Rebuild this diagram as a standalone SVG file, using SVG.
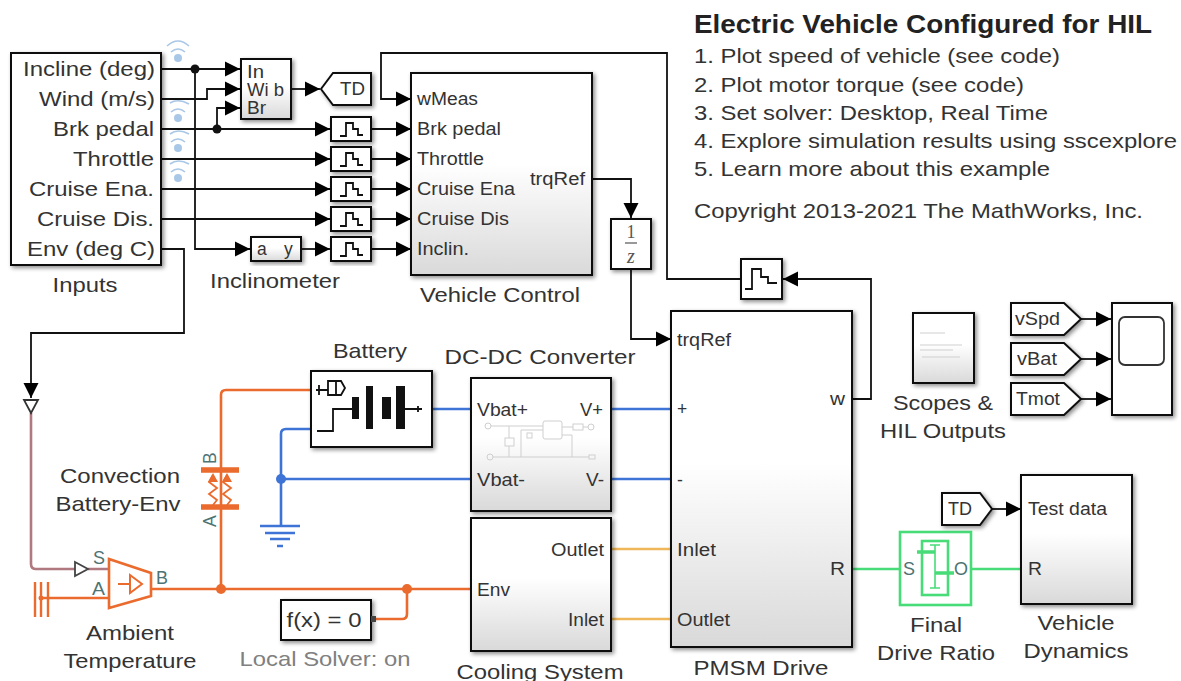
<svg xmlns="http://www.w3.org/2000/svg" width="1181" height="681" viewBox="0 0 1181 681">
<style>
text{font-family:"Liberation Sans",Arial,sans-serif;font-size:21px;fill:#333}
.s{font-size:17.5px}
.m{text-anchor:middle}
.e{text-anchor:end}
.p{fill:#4d7373}
.b{fill:#fff;stroke:#111;stroke-width:2;filter:url(#sh)}
.g{fill:url(#gr);stroke:#111;stroke-width:2;filter:url(#sh)}
.w{fill:none;stroke:#111;stroke-width:1.8}
.sig{fill:none;stroke:#111;stroke-width:1.8}
.sigA{fill:none;stroke:#111;stroke-width:1.8;marker-end:url(#ar)}
.or{fill:none;stroke:#ea6b2d;stroke-width:2.6}
.bl{fill:none;stroke:#3e74d6;stroke-width:2.6}
.ye{fill:none;stroke:#efb75a;stroke-width:2.6}
.gn{fill:none;stroke:#47dc78;stroke-width:2.6}
.pk{fill:none;stroke:#b0797f;stroke-width:2.6}
.fi{fill:none;stroke:#cfcfcf;stroke-width:1}
.wf{fill:none;stroke:#a9c7e6;stroke-width:1.6}
</style>
<defs>
<linearGradient id="gr" x1="0" y1="0" x2="0" y2="1"><stop offset="0.45" stop-color="#fff"/><stop offset="1" stop-color="#d9d9d9"/></linearGradient>
<filter id="sh" x="-20%" y="-20%" width="140%" height="140%"><feDropShadow dx="2" dy="2" stdDeviation="2" flood-color="#000" flood-opacity="0.45"/></filter>
<marker id="ar" markerUnits="userSpaceOnUse" markerWidth="15" markerHeight="16" refX="15" refY="8" orient="auto"><path d="M0 0.5L15 8L0 15.5z" fill="#000"/></marker>
<symbol id="zoh" overflow="visible"><path class="w" d="M9 19H15V6H22V12H27V18H32"/></symbol>
</defs>

<g id="connectors">
<path class="sigA" d="M161 69H240"/>
<path class="sigA" d="M195 69V249H250"/>
<path class="sigA" d="M161 99H207V89H240"/>
<path class="sigA" d="M161 129H330"/>
<path class="sigA" d="M217 129V108H240"/>
<path class="sigA" d="M161 159H330"/>
<path class="sigA" d="M161 189H330"/>
<path class="sigA" d="M161 219H330"/>
<path class="sigA" d="M291 89H320"/>
<path class="sigA" d="M301 249H330"/>
<path class="sigA" d="M371 129H411"/>
<path class="sigA" d="M371 159H411"/>
<path class="sigA" d="M371 189H411"/>
<path class="sigA" d="M371 219H411"/>
<path class="sigA" d="M371 249H411"/>
<path class="sigA" d="M741 279H667V53H381V99H411"/>
<path class="sigA" d="M851 399H871V279H783"/>
<path class="sigA" d="M592 179H631V218"/>
<path class="sigA" d="M631 269V339H671"/>
<path class="sigA" d="M161 249H184V333H31V398"/>
<path class="sigA" d="M1081 319H1111"/>
<path class="sigA" d="M1081 359H1111"/>
<path class="sigA" d="M1081 399H1111"/>
<path class="sigA" d="M992 509H1021"/>
<path class="pk" d="M31 413V564Q31 569 36 569H75M88 569H110"/>
<path class="or" d="M41 598H109M151 589H471"/>
<path class="or" d="M221 589V395Q221 390 226 390H311"/>
<path class="or" d="M375 619H402Q407 619 407 614V589"/>
<path class="bl" d="M311 429H286Q281 429 281 434V526M281 479H471M431 409H471M611 409H671M611 479H671"/>
<path class="ye" d="M611 549H671M611 619H671"/>
<path class="gn" d="M851 569H900M971 569H1021"/>
<g fill="#111"><circle cx="195" cy="69" r="4.5"/><circle cx="217" cy="129" r="4.5"/></g>
<g fill="#ea6b2d"><circle cx="221" cy="589" r="5"/><circle cx="407" cy="589" r="5"/></g>
<circle cx="281" cy="479" r="5" fill="#3e74d6"/>
</g>

<g id="wireless">
<g id="wifi1"><circle cx="178" cy="58" r="4" fill="#a9c7e6"/><path class="wf" d="M171 52Q178 46 185 52M167 46Q178 36 189 46"/></g>
<g id="wifi2"><circle cx="178" cy="118" r="4" fill="#a9c7e6"/><path class="wf" d="M171 112Q178 106 185 112M170 103Q178 98 189 104"/></g>
<g id="wifi3"><circle cx="178" cy="148" r="4" fill="#a9c7e6"/><path class="wf" d="M171 142Q178 136 185 142M170 134Q178 128 189 134"/></g>
<g id="wifi4"><circle cx="178" cy="178" r="4" fill="#a9c7e6"/><path class="wf" d="M171 172Q178 166 185 172M170 164Q178 158 189 164"/></g>
</g>

<g id="inputs">
<rect class="b" x="11" y="53" width="150" height="212"/>
<text class="e" x="155" y="76" textLength="132" lengthAdjust="spacingAndGlyphs">Incline (deg)</text>
<text class="e" x="155" y="106" textLength="116" lengthAdjust="spacingAndGlyphs">Wind (m/s)</text>
<text class="e" x="154" y="136" textLength="101" lengthAdjust="spacingAndGlyphs">Brk pedal</text>
<text class="e" x="154" y="166" textLength="81" lengthAdjust="spacingAndGlyphs">Throttle</text>
<text class="e" x="154" y="196" textLength="125" lengthAdjust="spacingAndGlyphs">Cruise Ena.</text>
<text class="e" x="154" y="226" textLength="117" lengthAdjust="spacingAndGlyphs">Cruise Dis.</text>
<text class="e" x="155" y="256" textLength="128" lengthAdjust="spacingAndGlyphs">Env (deg C)</text>
<text class="m" x="85" y="292" textLength="65" lengthAdjust="spacingAndGlyphs">Inputs</text>
</g>

<g id="mux">
<rect class="g" x="241" y="59" width="50" height="60"/>
<text class="s" x="247" y="78" textLength="17" lengthAdjust="spacingAndGlyphs">In</text>
<text class="s" x="247" y="96" textLength="37" lengthAdjust="spacingAndGlyphs">Wi b</text>
<text class="s" x="247" y="114" textLength="19" lengthAdjust="spacingAndGlyphs">Br</text>
</g>
<g id="goto-td">
<path class="b" d="M321 89L333 73H371V105H333z"/>
<text class="s" x="340" y="95" textLength="25" lengthAdjust="spacingAndGlyphs">TD</text>
</g>
<g id="zoh1"><rect class="b" x="331" y="117" width="40" height="24"/><use href="#zoh" x="331" y="117"/></g>
<g id="zoh2"><rect class="b" x="331" y="147" width="40" height="24"/><use href="#zoh" x="331" y="147"/></g>
<g id="zoh3"><rect class="b" x="331" y="177" width="40" height="24"/><use href="#zoh" x="331" y="177"/></g>
<g id="zoh4"><rect class="b" x="331" y="207" width="40" height="24"/><use href="#zoh" x="331" y="207"/></g>
<g id="zoh5"><rect class="b" x="331" y="237" width="40" height="24"/><use href="#zoh" x="331" y="237"/></g>
<g id="inclinometer">
<rect class="g" x="251" y="237" width="50" height="24"/>
<text class="s" x="257" y="255">a</text>
<text class="s" x="284" y="255">y</text>
<text class="m" x="275" y="288" textLength="130" lengthAdjust="spacingAndGlyphs">Inclinometer</text>
</g>
<g id="vehicle-control">
<rect class="g" x="411" y="73" width="181" height="202"/>
<text class="s" x="417" y="105" textLength="61" lengthAdjust="spacingAndGlyphs">wMeas</text>
<text class="s" x="417" y="135" textLength="84" lengthAdjust="spacingAndGlyphs">Brk pedal</text>
<text class="s" x="417" y="165" textLength="67" lengthAdjust="spacingAndGlyphs">Throttle</text>
<text class="s" x="417" y="195" textLength="98" lengthAdjust="spacingAndGlyphs">Cruise Ena</text>
<text class="s" x="417" y="225" textLength="92" lengthAdjust="spacingAndGlyphs">Cruise Dis</text>
<text class="s" x="417" y="255" textLength="52" lengthAdjust="spacingAndGlyphs">Inclin.</text>
<text class="s e" x="585" y="185" textLength="55" lengthAdjust="spacingAndGlyphs">trqRef</text>
<text class="m" x="500" y="302" textLength="160" lengthAdjust="spacingAndGlyphs">Vehicle Control</text>
</g>
<g id="unit-delay">
<rect class="b" x="611" y="219" width="40" height="50"/>
<text x="631" y="238" class="m" style="font-family:'Liberation Serif',serif;font-size:18px;fill:#555">1</text>
<path d="M625 243H637" stroke="#555" stroke-width="1.2"/>
<text x="631" y="263" class="m" style="font-family:'Liberation Serif',serif;font-size:20px;font-style:italic;fill:#555">z</text>
</g>
<g id="zoh6"><rect class="b" x="741" y="259" width="41" height="40"/><path class="w" d="M745 289H752V269H761V277H768V283H777"/></g>
<g id="pmsm-drive">
<rect class="g" x="671" y="311" width="181" height="336"/>
<text class="s" x="677" y="346" textLength="54" lengthAdjust="spacingAndGlyphs">trqRef</text>
<text class="s" x="677" y="415">+</text>
<text class="s" x="677" y="486">-</text>
<text class="s" x="677" y="556" textLength="39" lengthAdjust="spacingAndGlyphs">Inlet</text>
<text class="s" x="677" y="626" textLength="53" lengthAdjust="spacingAndGlyphs">Outlet</text>
<text class="s e" x="845" y="405" textLength="15" lengthAdjust="spacingAndGlyphs">w</text>
<text class="s e" x="845" y="575" textLength="15" lengthAdjust="spacingAndGlyphs">R</text>
<text class="m" x="761" y="675" textLength="135" lengthAdjust="spacingAndGlyphs">PMSM Drive</text>
</g>
<g id="battery">
<rect class="b" x="311" y="371" width="121" height="76"/>
<path class="w" d="M316 390H328M319 385V395"/>
<path class="w" d="M328 381H341L345 388L341 395H328zM336 381V395"/>
<path class="w" d="M317 431H333V409H352M405 409H422"/>
<g fill="#111"><rect x="352" y="397" width="7" height="22"/><rect x="366" y="386" width="7" height="43"/><rect x="382" y="397" width="9" height="22"/><rect x="396" y="386" width="9" height="43"/></g>
<path class="w" d="M418 406V412"/>
<text class="m" x="370" y="358" textLength="74" lengthAdjust="spacingAndGlyphs">Battery</text>
</g>
<g id="dc-dc-converter">
<rect class="g" x="471" y="378" width="140" height="133"/>
<text class="s" x="477" y="416" textLength="51" lengthAdjust="spacingAndGlyphs">Vbat+</text>
<text class="s" x="477" y="486" textLength="48" lengthAdjust="spacingAndGlyphs">Vbat-</text>
<text class="s e" x="603" y="416" textLength="23" lengthAdjust="spacingAndGlyphs">V+</text>
<text class="s e" x="604" y="486" textLength="18" lengthAdjust="spacingAndGlyphs">V-</text>
<path class="fi" d="M491 426H543M509 426V438M509 446V457M562 427H573M583 427H588M493 457H589M521 457V430H543M562 435H572V457"/>
<rect class="fi" x="505" y="438" width="9" height="8"/>
<rect class="fi" x="543" y="421" width="19" height="18" rx="2"/>
<rect class="fi" x="527" y="433" width="5" height="5"/>
<rect class="fi" x="573" y="424" width="10" height="6"/>
<circle class="fi" cx="488" cy="426" r="3"/><circle class="fi" cx="591" cy="427" r="3"/><circle class="fi" cx="490" cy="457" r="3"/><rect class="fi" x="589" y="455" width="6" height="4"/>
<text class="m" x="540" y="364" textLength="191" lengthAdjust="spacingAndGlyphs">DC-DC Converter</text>
</g>
<g id="cooling-system">
<rect class="g" x="471" y="518" width="140" height="133"/>
<text class="s" x="477" y="596" textLength="33" lengthAdjust="spacingAndGlyphs">Env</text>
<text class="s e" x="604" y="556" textLength="53" lengthAdjust="spacingAndGlyphs">Outlet</text>
<text class="s e" x="604" y="626" textLength="36" lengthAdjust="spacingAndGlyphs">Inlet</text>
<text class="m" x="540" y="679" textLength="167" lengthAdjust="spacingAndGlyphs">Cooling System</text>
</g>
<g id="ground">
<path d="M260 526H300M265 533H295M270 539H290M277 546H283" stroke="#3e74d6" stroke-width="2.6" fill="none"/>
</g>
<g id="convection">
<path d="M201 470H239M201 507H239" stroke="#ea6b2d" stroke-width="5.5" fill="none"/>
<path class="or" style="stroke-width:1.8" d="M213 475L209 482L217 488L209 494L217 500L213 505M227 475L223 482L231 488L223 494L231 500L227 505"/>
<path d="M208 482L213 473L218 482zM222 482L227 473L232 482z" fill="#ea6b2d"/>
<text class="p s" transform="translate(216 464) rotate(-90)">B</text>
<text class="p s" transform="translate(216 527) rotate(-90)">A</text>
<text class="m" x="120" y="483" textLength="120" lengthAdjust="spacingAndGlyphs">Convection</text>
<text class="m" x="118" y="511" textLength="125" lengthAdjust="spacingAndGlyphs">Battery-Env</text>
</g>
<g id="ports">
<path d="M24 400H38L31 413z" fill="#fff" stroke="#333" stroke-width="1.8"/>
<path d="M75 562L88 569L75 576z" fill="#fff" stroke="#444" stroke-width="1.8"/>
</g>
<g id="ambient-temperature">
<path d="M109 559L151 573V596L109 608z" fill="#fff" stroke="#ea6b2d" stroke-width="2.6"/>
<path d="M118 584H131M130 575L142 584L130 593z" fill="none" stroke="#ea6b2d" stroke-width="2"/>
<path d="M35 582V617M41 582V617M48 582V617" stroke="#ea6b2d" stroke-width="2.4" fill="none"/>
<circle cx="41" cy="598" r="2.5" fill="#ea6b2d"/>
<text class="p s" x="93" y="564" textLength="12" lengthAdjust="spacingAndGlyphs">S</text>
<text class="p s" x="92" y="595" textLength="13" lengthAdjust="spacingAndGlyphs">A</text>
<text class="p s" x="156" y="584" textLength="12" lengthAdjust="spacingAndGlyphs">B</text>
<text class="m" x="130" y="640" textLength="88" lengthAdjust="spacingAndGlyphs">Ambient</text>
<text class="m" x="130" y="668" textLength="133" lengthAdjust="spacingAndGlyphs">Temperature</text>
</g>
<g id="solver">
<rect class="b" x="281" y="600" width="90" height="40"/>
<rect x="371" y="616" width="5" height="6" fill="#444"/>
<text class="m" x="324" y="627" textLength="75" lengthAdjust="spacingAndGlyphs">f(x) = 0</text>
<text class="m" x="325" y="666" style="fill:#808080" textLength="171" lengthAdjust="spacingAndGlyphs">Local Solver: on</text>
</g>
<g id="scopes-hil">
<rect class="g" x="913" y="313" width="61" height="70"/>
<path class="fi" d="M920 333H945M920 345H962M920 350H953M922 357H960"/>
<text class="m" x="943" y="410" textLength="100" lengthAdjust="spacingAndGlyphs">Scopes &amp;</text>
<text class="m" x="943" y="438" textLength="126" lengthAdjust="spacingAndGlyphs">HIL Outputs</text>
</g>
<g id="from-vspd"><path class="b" d="M1011 303H1064L1081 319L1064 335H1011z"/><text x="1015" y="325" class="s" textLength="45" lengthAdjust="spacingAndGlyphs">vSpd</text></g>
<g id="from-vbat"><path class="b" d="M1011 343H1064L1081 359L1064 375H1011z"/><text x="1017" y="365" class="s" textLength="40" lengthAdjust="spacingAndGlyphs">vBat</text></g>
<g id="from-tmot"><path class="b" d="M1011 383H1064L1081 399L1064 415H1011z"/><text x="1016" y="405" class="s" textLength="44" lengthAdjust="spacingAndGlyphs">Tmot</text></g>
<g id="scope">
<rect class="b" x="1112" y="303" width="60" height="112"/>
<rect x="1119" y="317" width="45" height="48" rx="6" fill="#fff" stroke="#333" stroke-width="1.8"/>
</g>
<g id="final-drive-ratio">
<rect x="900" y="532" width="71" height="73" fill="#fff" stroke="#47dc78" stroke-width="2.6"/>
<rect x="922" y="541" width="26" height="54" fill="none" stroke="#47dc78" stroke-width="2.6"/>
<path d="M935 545V588M930 545H940M930 588H940" stroke="#47dc78" stroke-width="1.6" fill="none"/>
<path d="M917 552H935M935 573H954" stroke="#47dc78" stroke-width="3.5" fill="none"/>
<text class="p s" x="903" y="575" textLength="12" lengthAdjust="spacingAndGlyphs">S</text>
<text class="p s" x="954" y="575" textLength="14" lengthAdjust="spacingAndGlyphs">O</text>
<text class="m" x="936" y="632" textLength="52" lengthAdjust="spacingAndGlyphs">Final</text>
<text class="m" x="936" y="660" textLength="118" lengthAdjust="spacingAndGlyphs">Drive Ratio</text>
</g>
<g id="from-td">
<path class="b" d="M942 493H980L992 509L980 525H942z"/>
<text class="s" x="948" y="515" textLength="24" lengthAdjust="spacingAndGlyphs">TD</text>
</g>
<g id="vehicle-dynamics">
<rect class="g" x="1021" y="475" width="111" height="129"/>
<text class="s" x="1028" y="515" textLength="79" lengthAdjust="spacingAndGlyphs">Test data</text>
<text class="s" x="1028" y="575" textLength="14" lengthAdjust="spacingAndGlyphs">R</text>
<text class="m" x="1076" y="630" textLength="77" lengthAdjust="spacingAndGlyphs">Vehicle</text>
<text class="m" x="1076" y="658" textLength="105" lengthAdjust="spacingAndGlyphs">Dynamics</text>
</g>
<g id="annotation">
<text x="694" y="33" style="font-weight:bold;font-size:25px;fill:#222" textLength="458" lengthAdjust="spacingAndGlyphs">Electric Vehicle Configured for HIL</text>
<text x="694" y="63" textLength="366" lengthAdjust="spacingAndGlyphs">1. Plot speed of vehicle (see code)</text>
<text x="694" y="92" textLength="330" lengthAdjust="spacingAndGlyphs">2. Plot motor torque (see code)</text>
<text x="694" y="120" textLength="354" lengthAdjust="spacingAndGlyphs">3. Set solver: Desktop, Real Time</text>
<text x="694" y="148" textLength="483" lengthAdjust="spacingAndGlyphs">4. Explore simulation results using sscexplore</text>
<text x="694" y="176" textLength="356" lengthAdjust="spacingAndGlyphs">5. Learn more about this example</text>
<text x="694" y="218" textLength="449" lengthAdjust="spacingAndGlyphs">Copyright 2013-2021 The MathWorks, Inc.</text>
</g>
</svg>
